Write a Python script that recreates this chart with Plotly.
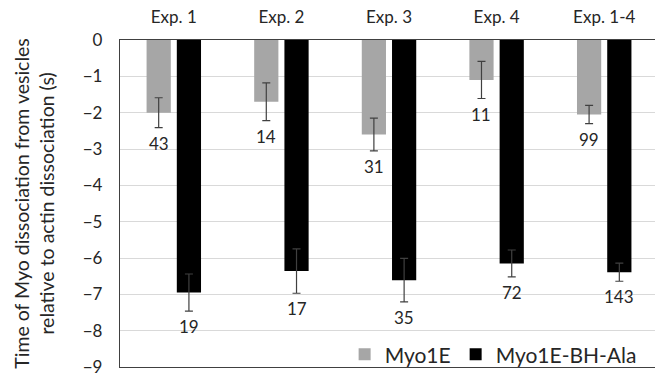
import plotly.graph_objects as go

# Experiment groups and measured dissociation timing (s)
categories = ["Exp. 1", "Exp. 2", "Exp. 3", "Exp. 4", "Exp. 1-4"]
myo1e_mean = [-2.0, -1.7, -2.6, -1.1, -2.05]
myo1e_err = [0.41, 0.52, 0.45, 0.51, 0.25]
myo1e_n = [43, 14, 31, 11, 99]
ala_mean = [-6.95, -6.36, -6.61, -6.15, -6.39]
ala_err = [0.51, 0.61, 0.60, 0.37, 0.25]
ala_n = [19, 17, 35, 72, 143]
y_ticks = [0, -1, -2, -3, -4, -5, -6, -7, -8, -9]

FONT = "Lato, 'Open Sans', sans-serif"
TXT = "#262626"
BAR_W = 0.225
OFF_GRAY = -0.253
OFF_BLACK = 0.028

fig = go.Figure()
fig.add_trace(go.Bar(
    x=categories, y=myo1e_mean, name="Myo1E",
    marker=dict(color="#a6a6a6", line=dict(width=0)),
    width=BAR_W, offset=OFF_GRAY,
    error_y=dict(type="data", array=myo1e_err, visible=True,
                 color="#404040", thickness=1.2, width=4),
))
fig.add_trace(go.Bar(
    x=categories, y=ala_mean, name="Myo1E-BH-Ala",
    marker=dict(color="#000000", line=dict(width=0)),
    width=BAR_W, offset=OFF_BLACK,
    error_y=dict(type="data", array=ala_err, visible=True,
                 color="#404040", thickness=1.2, width=4),
))

# sample counts under each error bar
annotations = []
for i in range(len(categories)):
    for mean, err, n, off in ((myo1e_mean[i], myo1e_err[i], myo1e_n[i], OFF_GRAY),
                              (ala_mean[i], ala_err[i], ala_n[i], OFF_BLACK)):
        annotations.append(dict(
            x=i + off + BAR_W / 2, y=mean - err, xref="x", yref="y",
            text=str(n), showarrow=False, yanchor="top", yshift=-3,
            font=dict(family=FONT, size=17, color=TXT),
        ))

fig.update_layout(
    width=655, height=377,
    margin=dict(l=120, r=0, t=40, b=6),
    paper_bgcolor="white", plot_bgcolor="white",
    barmode="overlay",
    showlegend=True,
    legend=dict(orientation="h", x=0.975, xanchor="right", y=-0.025, yanchor="bottom",
                font=dict(family=FONT, size=21, color=TXT),
                bgcolor="rgba(255,255,255,0)", itemwidth=30, traceorder="normal"),
    annotations=annotations,
    xaxis=dict(
        side="top", type="category", range=[-0.5, 4.472],
        showline=True, linecolor="#404040", linewidth=1.3, mirror=True,
        showgrid=False, ticks="", ticklabelstandoff=9,
        tickfont=dict(family=FONT, size=17, color=TXT),
    ),
    yaxis=dict(
        range=[-9, 0], tickvals=y_ticks,
        showline=True, linecolor="#404040", linewidth=1.3,
        showgrid=True, gridcolor="#d9d9d9", gridwidth=1.2,
        zeroline=False, ticks="", ticklabelstandoff=13,
        ticklabeloverflow="allow",
        tickfont=dict(family=FONT, size=17, color=TXT),
        title=dict(text="Time of Myo dissociation from vesicles<br>relative to actin dissociation (s)",
                   font=dict(family=FONT, size=19.5, color=TXT), standoff=22),
    ),
)

fig.write_html("out.html")
